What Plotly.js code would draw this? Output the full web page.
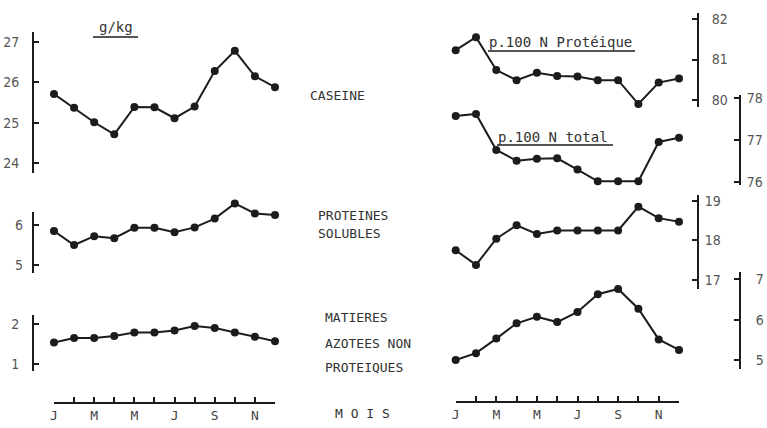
<!DOCTYPE html>
<html>
<head>
<meta charset="utf-8">
<script src="https://cdn.plot.ly/plotly-3.0.1.min.js"></script>
<style>html,body{margin:0;padding:0;background:#fff;}#chart{width:767px;height:428px;}</style>
</head>
<body>
<div id="chart"></div>
<script>
// ---- data ----
const monthIndex = [1,2,3,4,5,6,7,8,9,10,11,12];
const monthTickText = ['J','','M','','M','','J','','S','','N',''];

// left panel, g/kg
const caseine = [25.71,25.37,25.01,24.71,25.39,25.38,25.11,25.40,26.28,26.78,26.15,25.88];
const proteinesSolubles = [5.85,5.50,5.72,5.67,5.93,5.93,5.82,5.94,6.16,6.54,6.29,6.25];
const matieresAzoteesNonProt = [1.54,1.65,1.65,1.70,1.79,1.79,1.84,1.95,1.90,1.79,1.68,1.57];

// right panel, percentages
const caseinePctNProteique = [81.23,81.55,80.74,80.49,80.67,80.59,80.58,80.49,80.49,79.90,80.43,80.53];
const caseinePctNTotal = [77.57,77.62,76.76,76.50,76.55,76.56,76.29,76.01,76.01,76.01,76.95,77.05];
const solublesPctNTotal = [17.75,17.38,18.04,18.38,18.16,18.25,18.25,18.25,18.25,18.85,18.56,18.47];
const npnPctNTotal = [5.00,5.17,5.53,5.91,6.07,5.94,6.19,6.63,6.76,6.27,5.51,5.25];

// tick values
const ticksCaseine = [24,25,26,27];
const ticksSolubles = [5,6];
const ticksNpn = [1,2];
const ticksProteique = [80,81,82];
const ticksTotal = [76,77,78];
const ticksSolPct = [17,18,19];
const ticksNpnPct = [5,6,7];

// ---- layout helpers (pixel geometry) ----
const W = 767, H = 428;
const px = x => x / W;
const py = y => 1 - y / H;
const INK = '#1c1c1c';
const NUMFONT = {family: '"DejaVu Sans Condensed", "Liberation Sans Narrow", "DejaVu Sans", sans-serif', size: 14, color: '#555'};
const MONO = '"DejaVu Sans Mono", "Liberation Mono", monospace';
const extraShapes = [];

// axis line drawn from topPx to botPx; the plotting area may extend higher (extTopPx) so lines are not clipped
function yAxis(topPx, botPx, v1, p1, v2, p2, xPos, side, ticks, standoff, extTopPx) {
  const k = (p2 - p1) / (v1 - v2); // px per unit
  const areaTop = (extTopPx !== undefined) ? extTopPx : topPx;
  const top = v1 + (p1 - areaTop) / k;
  const bot = v2 - (botPx - p2) / k;
  const ax = {
    domain: [py(botPx), py(areaTop)], range: [bot, top],
    anchor: 'free', position: px(xPos), side: side,
    showline: extTopPx === undefined, linecolor: INK, linewidth: 2,
    ticks: 'inside', ticklen: 5, tickwidth: 2, tickcolor: INK,
    tickvals: ticks, tickfont: NUMFONT, ticklabelstandoff: standoff,
    showgrid: false, zeroline: false, fixedrange: true
  };
  if (extTopPx !== undefined) {
    extraShapes.push({type: 'line', xref: 'paper', yref: 'paper', x0: px(xPos), x1: px(xPos),
      y0: py(botPx), y1: py(topPx), line: {color: INK, width: 2}});
  }
  return ax;
}
function xAxis(leftPx, rightPx, yPos) {
  return {
    domain: [px(leftPx), px(rightPx)], range: [1, 12],
    anchor: 'free', position: py(yPos),
    showline: true, linecolor: INK, linewidth: 2,
    ticks: 'inside', ticklen: 5, tickwidth: 2, tickcolor: INK,
    tickvals: monthIndex, ticktext: monthTickText,
    tickfont: {family: MONO, size: 13, color: '#444'},
    showgrid: false, zeroline: false, fixedrange: true
  };
}
function series(y, xa, ya) {
  return {x: monthIndex, y: y, xaxis: xa, yaxis: ya, type: 'scatter', mode: 'lines+markers',
    line: {color: INK, width: 2}, marker: {color: INK, size: 8}, cliponaxis: false, showlegend: false, hoverinfo: 'skip'};
}

const data = [
  series(caseine, 'x', 'y'),
  series(proteinesSolubles, 'x', 'y2'),
  series(matieresAzoteesNonProt, 'x', 'y3'),
  series(caseinePctNProteique, 'x2', 'y4'),
  series(caseinePctNTotal, 'x2', 'y5'),
  series(solublesPctNTotal, 'x2', 'y6'),
  series(npnPctNTotal, 'x2', 'y7')
];

function txt(t, x, y, xanchor, size) {
  return {text: t, x: px(x), y: py(y), xref: 'paper', yref: 'paper', xanchor: xanchor || 'left', yanchor: 'middle',
    showarrow: false, font: {family: MONO, size: size || 13, color: '#333'}};
}
function uline(x0, x1, y) {
  return {type: 'line', xref: 'paper', yref: 'paper', x0: px(x0), x1: px(x1), y0: py(y), y1: py(y), line: {color: INK, width: 1.5}};
}

const layout = {
  width: W, height: H, margin: {l: 0, r: 0, t: 0, b: 0},
  paper_bgcolor: '#fff', plot_bgcolor: 'rgba(0,0,0,0)',
  xaxis: xAxis(54, 275, 403),
  xaxis2: xAxis(455.7, 679, 402),
  yaxis: yAxis(32, 173, 27, 42, 24, 163, 33, 'left', ticksCaseine, 10),
  yaxis2: yAxis(212, 273, 6, 225, 5, 265, 33, 'left', ticksSolubles, 10, 190),
  yaxis3: yAxis(315, 371, 2, 324, 1, 364, 33, 'left', ticksNpn, 10),
  yaxis4: yAxis(13, 107, 82, 19, 80, 100, 698, 'right', ticksProteique, 10),
  yaxis5: yAxis(95, 185, 78, 98, 76, 181.7, 740, 'right', ticksTotal, 3),
  yaxis6: yAxis(195, 289, 19, 200.7, 17, 280, 698, 'right', ticksSolPct, 3),
  yaxis7: yAxis(272, 369, 7, 279.3, 5, 360, 740, 'right', ticksNpnPct, 12),
  annotations: [
    txt('g/kg', 116, 27, 'center', 14),
    txt('CASEINE', 308, 95),
    txt('PROTEINES', 316, 215),
    txt('SOLUBLES', 316, 233),
    txt('MATIERES', 323, 317),
    txt('AZOTEES NON', 323, 343),
    txt('PROTEIQUES', 323, 367),
    txt('M O I S', 362, 413, 'center'),
    txt('p.100 N Protéique', 487, 42, 'left', 14),
    txt('p.100 N total', 496, 137, 'left', 14)
  ],
  shapes: [
    uline(93, 138, 37),
    uline(488, 635, 51),
    uline(497, 613, 145)
  ].concat(extraShapes)
};

Plotly.newPlot('chart', data, layout, {staticPlot: true, displayModeBar: false});
</script>
</body>
</html>
